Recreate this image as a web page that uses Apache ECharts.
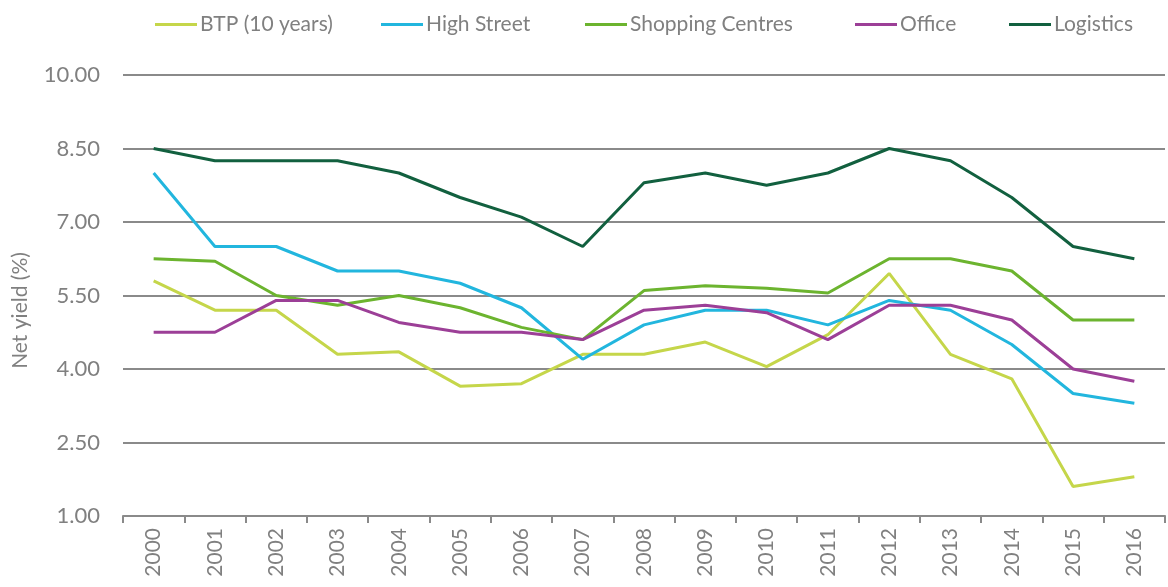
<!DOCTYPE html>
<html>
<head>
<meta charset="utf-8">
<script src="https://cdn.jsdelivr.net/npm/echarts@6/dist/echarts.min.js"></script>
<style>
  html, body { margin: 0; padding: 0; background: #ffffff; }
  #chart { width: 1168px; height: 587px; }
</style>
</head>
<body>
<div id="chart"></div>
<script>
// Net yields by year, in percent
const years = ['2000','2001','2002','2003','2004','2005','2006','2007','2008',
               '2009','2010','2011','2012','2013','2014','2015','2016'];
const btp10y          = [5.8, 5.2, 5.2, 4.3, 4.35, 3.65, 3.7, 4.3, 4.3, 4.55, 4.05, 4.7, 5.95, 4.3, 3.8, 1.6, 1.8];
const highStreet      = [8.0, 6.5, 6.5, 6.0, 6.0, 5.75, 5.25, 4.2, 4.9, 5.2, 5.2, 4.9, 5.4, 5.2, 4.5, 3.5, 3.3];
const shoppingCentres = [6.25, 6.2, 5.5, 5.3, 5.5, 5.25, 4.85, 4.6, 5.6, 5.7, 5.65, 5.55, 6.25, 6.25, 6.0, 5.0, 5.0];
const office          = [4.75, 4.75, 5.4, 5.4, 4.95, 4.75, 4.75, 4.6, 5.2, 5.3, 5.15, 4.6, 5.3, 5.3, 5.0, 4.0, 3.75];
const logistics       = [8.5, 8.25, 8.25, 8.25, 8.0, 7.5, 7.1, 6.5, 7.8, 8.0, 7.75, 8.0, 8.5, 8.25, 7.5, 6.5, 6.25];

const seriesNames  = ['BTP (10 years)', 'High Street', 'Shopping Centres', 'Office', 'Logistics'];
const seriesColors = ['#c5d64a', '#22b6de', '#6cb42f', '#9c3f97', '#12603f'];
const seriesData   = [btp10y, highStreet, shoppingCentres, office, logistics];

// left edge of each legend entry along the top row
const legendLefts = [150, 376, 580, 850, 1004];

const FONT = 'Lato, "DejaVu Sans", sans-serif';
const TEXT = '#808080';
const RULE = '#8a8a8a';

const chart = echarts.init(document.getElementById('chart'));
chart.setOption({
  animation: false,
  textStyle: { fontFamily: FONT },
  legend: seriesNames.map((name, i) => ({
    top: 9,
    left: legendLefts[i],
    icon: 'rect',
    itemWidth: 42,
    itemHeight: 3,
    selectedMode: false,
    textStyle: { color: TEXT, fontSize: 21, fontFamily: FONT, padding: [0, 0, 0, -2] },
    data: [name]
  })),
  grid: { left: 123, right: 3, top: 75, bottom: 71 },
  xAxis: {
    type: 'category',
    data: years,
    boundaryGap: true,
    axisLine: { lineStyle: { color: RULE, width: 2 } },
    axisTick: { show: true, length: 7, lineStyle: { color: RULE, width: 2 } },
    axisLabel: { rotate: 90, color: TEXT, fontSize: 21, margin: 12, fontFamily: FONT }
  },
  yAxis: {
    type: 'value',
    min: 1,
    max: 10,
    interval: 1.5,
    name: 'Net yield (%)',
    nameLocation: 'middle',
    nameGap: 92,
    nameTextStyle: { color: TEXT, fontSize: 21, fontFamily: FONT, padding: [0, 0, 0, -30] },
    axisLine: { show: false },
    axisTick: { show: false },
    axisLabel: {
      color: TEXT, fontSize: 22, margin: 23, fontFamily: FONT,
      formatter: v => v.toFixed(2)
    },
    splitLine: { lineStyle: { color: RULE, width: 2 } }
  },
  series: seriesNames.map((name, i) => ({
    name,
    type: 'line',
    data: seriesData[i],
    symbol: 'none',
    lineStyle: { color: seriesColors[i], width: 3 },
    itemStyle: { color: seriesColors[i] }
  }))
});
</script>
</body>
</html>
